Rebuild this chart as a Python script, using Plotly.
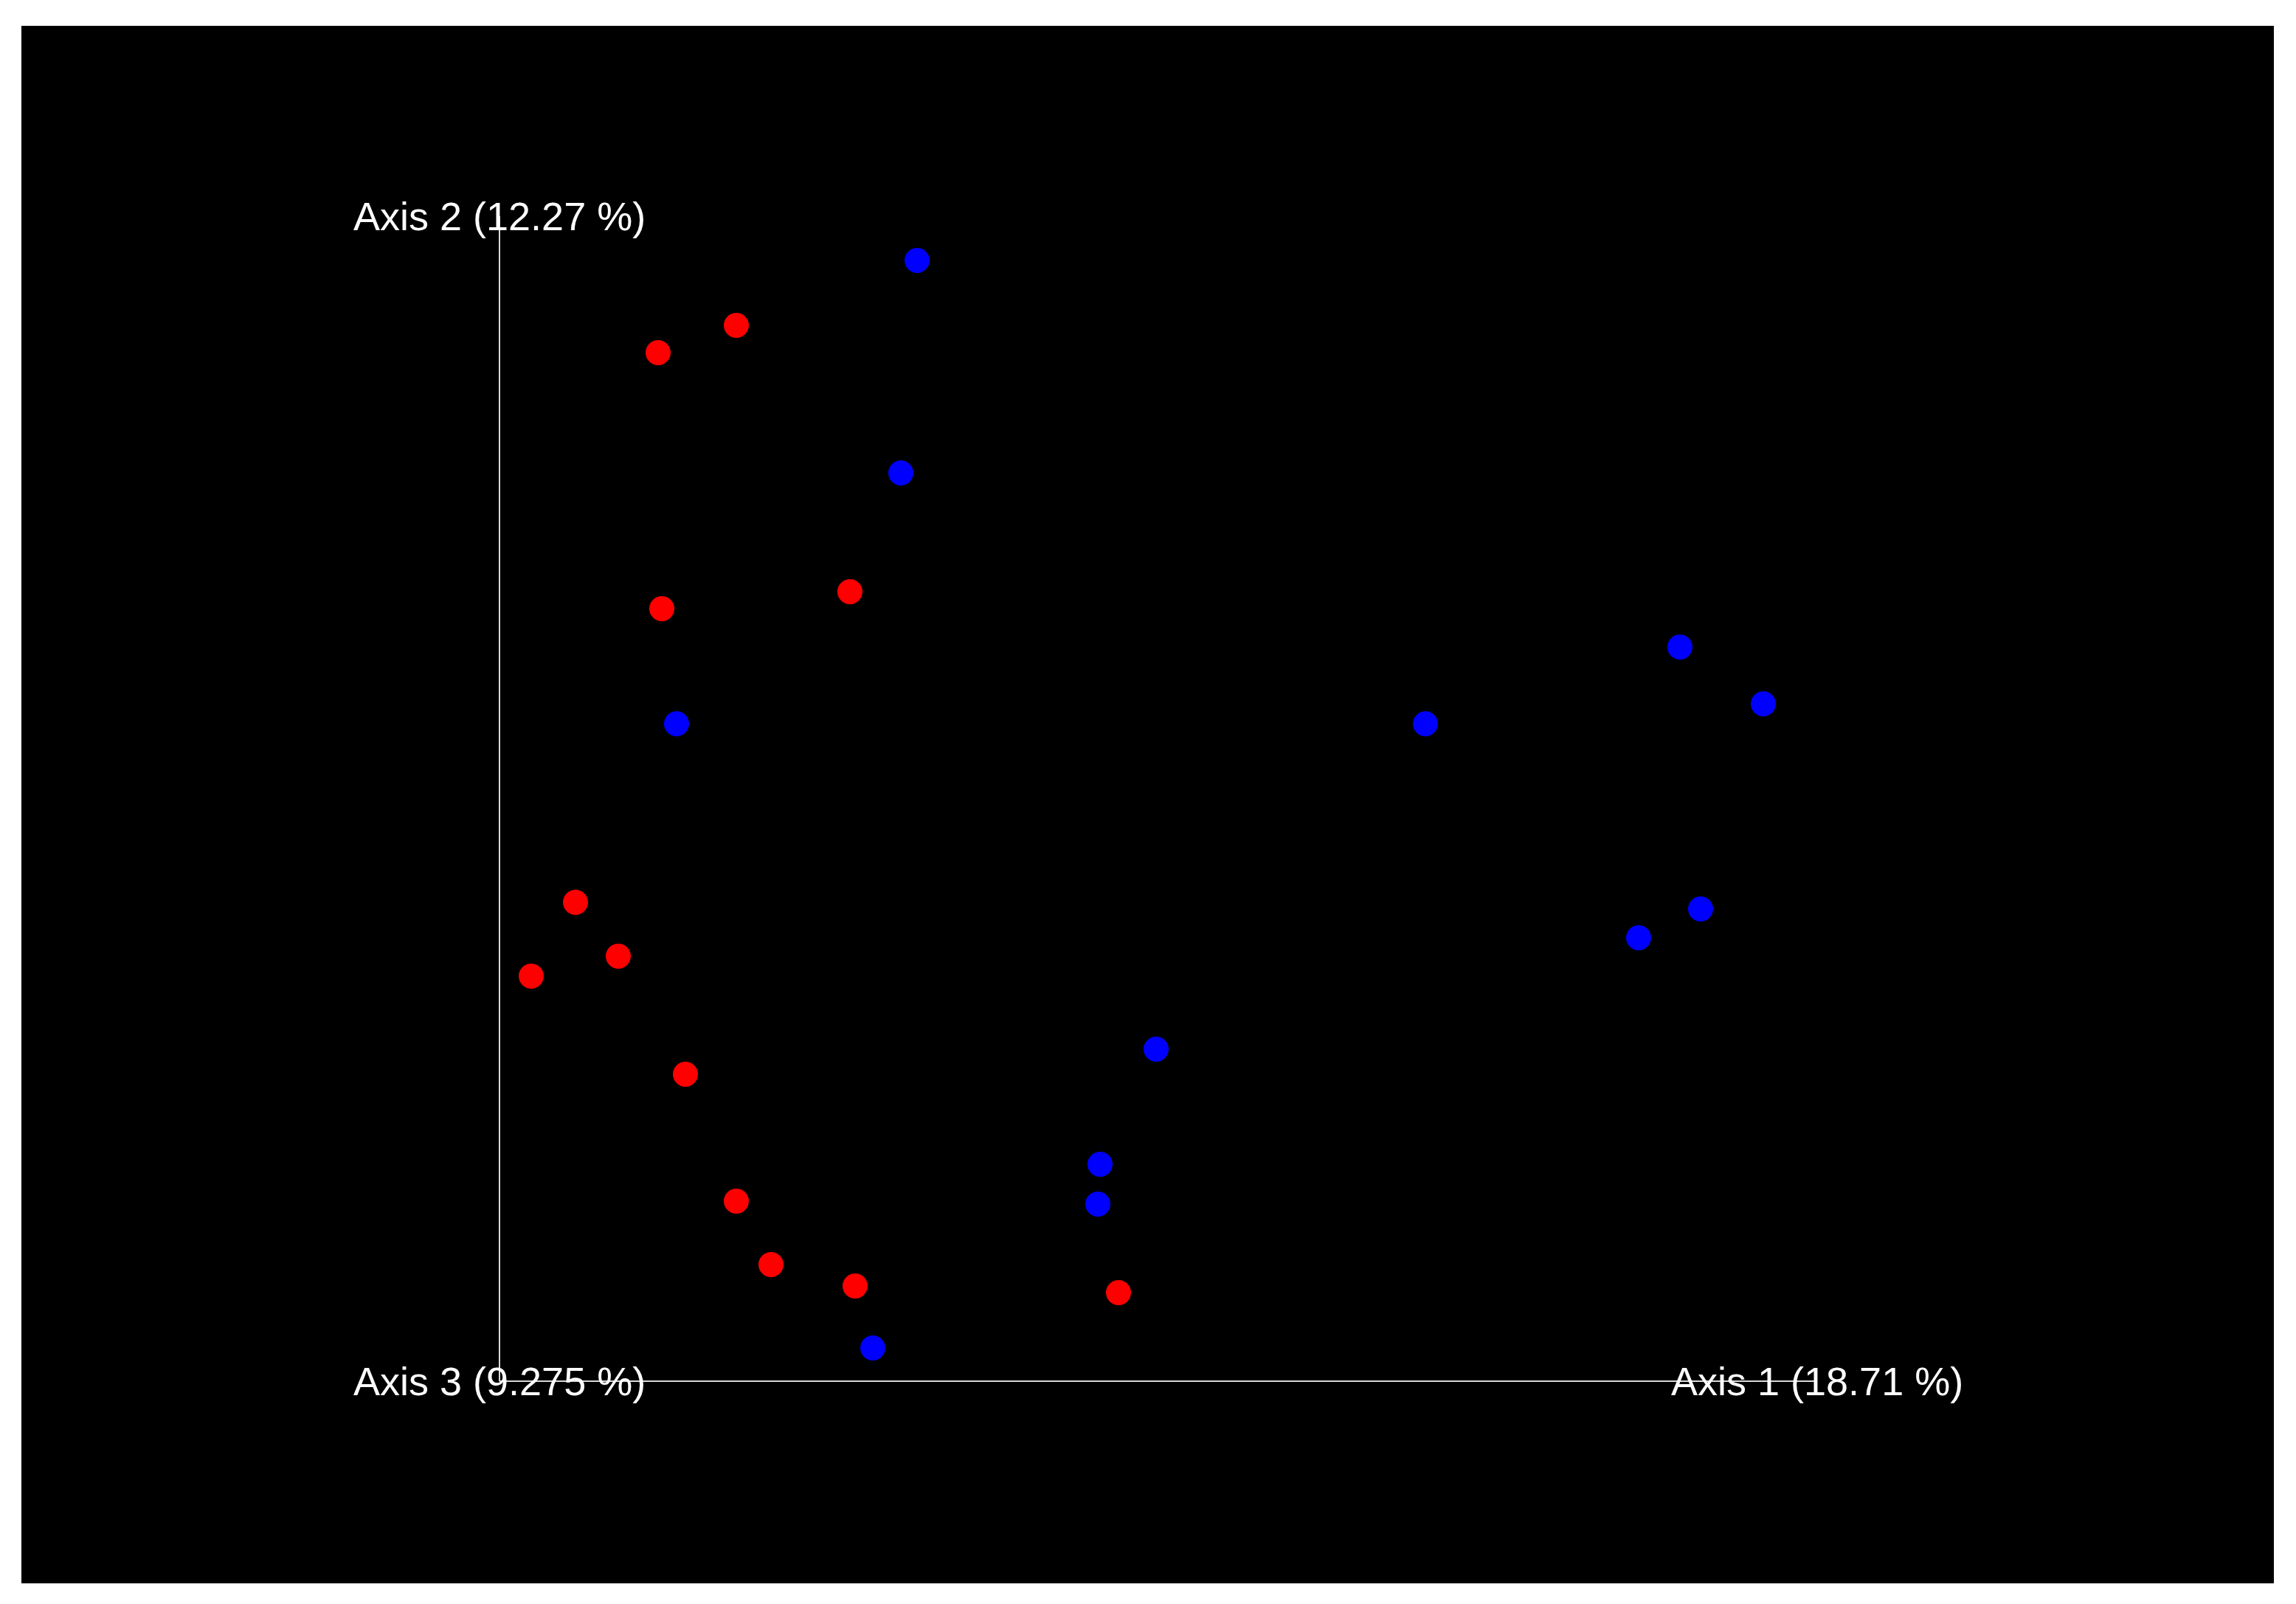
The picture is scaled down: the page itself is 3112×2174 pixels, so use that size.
import plotly.graph_objects as go

# Sample ordination scores (arbitrary units)
red_x = [3.21, 2.15, 4.75, 2.20, 1.03, 1.61, 0.43, 2.52, 3.21, 3.68, 4.82, 8.39]
red_y = [14.31, 13.94, 10.70, 10.47, 6.49, 5.76, 5.49, 4.16, 2.44, 1.58, 1.29, 1.20]
blue_x = [5.66, 5.44, 2.40, 12.55, 16.00, 17.13, 16.28, 15.44, 8.90, 8.14, 8.11, 5.06]
blue_y = [15.19, 12.31, 8.91, 8.91, 9.95, 9.18, 6.40, 6.01, 4.50, 2.94, 2.40, 0.45]

axis_labels = ["Axis 1 (18.71 %)", "Axis 2 (12.27 %)", "Axis 3 (9.275 %)"]
axis1_len = 17.86
axis2_len = 15.79

W, H = 3112, 2174
ml, mr, mt, mb = 29, 30, 35, 28

fig = go.Figure()
fig.add_trace(go.Scatter(x=red_x, y=red_y, mode="markers",
                         marker=dict(color="#ff0000", size=34, line=dict(width=0)),
                         showlegend=False, hoverinfo="skip"))
fig.add_trace(go.Scatter(x=blue_x, y=blue_y, mode="markers",
                         marker=dict(color="#0000ff", size=34, line=dict(width=0)),
                         showlegend=False, hoverinfo="skip"))

line_style = dict(color="#d8d8d8", width=2)
fig.add_shape(type="line", x0=0, y0=0, x1=axis1_len, y1=0, line=line_style, layer="below")
fig.add_shape(type="line", x0=0, y0=0, x1=0, y1=axis2_len, line=line_style, layer="below")

font = dict(family="Liberation Sans, Arial, Helvetica, sans-serif", size=54, color="white")
for (ax, ay, txt) in [(axis1_len, 0, axis_labels[0]), (0, axis2_len, axis_labels[1]), (0, 0, axis_labels[2])]:
    fig.add_annotation(x=ax, y=ay, text=txt, showarrow=False, xanchor="center",
                       yanchor="middle", font=font)

fig.update_xaxes(range=[-6.48, 24.05], visible=False, showgrid=False, zeroline=False)
fig.update_yaxes(range=[-2.74, 18.37], visible=False, showgrid=False, zeroline=False)
fig.update_layout(width=W, height=H, autosize=False,
                  margin=dict(l=ml, r=mr, t=mt, b=mb, pad=0),
                  paper_bgcolor="white", plot_bgcolor="black")

fig.write_html("out.html", config={"displayModeBar": False},
               post_script="document.body.style.margin='0';document.body.style.overflow='hidden';")
